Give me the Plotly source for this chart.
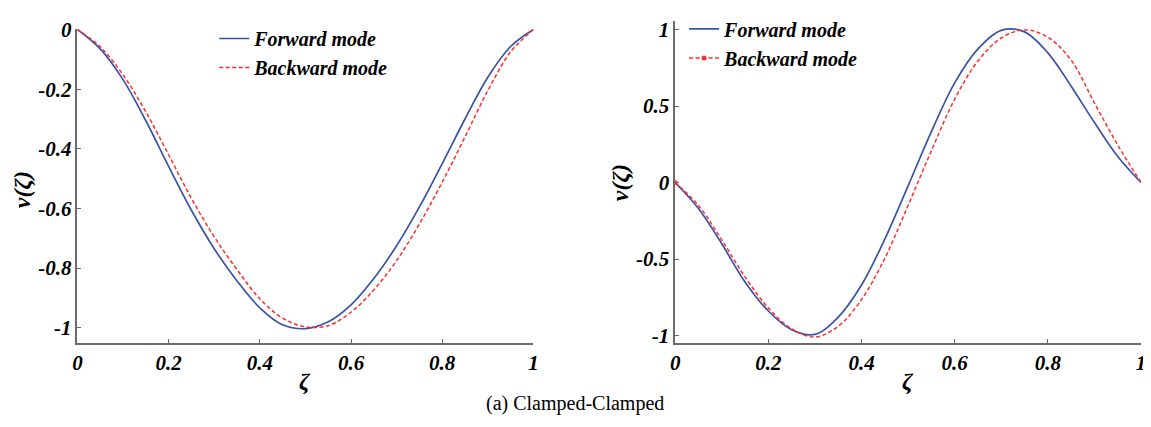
import plotly.graph_objects as go

# ---------------- data ----------------
zeta = [0.0, 0.05, 0.10, 0.15, 0.20, 0.25, 0.30, 0.35, 0.40, 0.45, 0.50,
        0.55, 0.60, 0.65, 0.70, 0.75, 0.80, 0.85, 0.90, 0.95, 1.0]

# Left panel (first mode)
left_forward = [0.0, -0.065, -0.168, -0.306, -0.459, -0.606, -0.735, -0.843, -0.933, -0.990, -1.003,
                -0.980, -0.923, -0.835, -0.725, -0.595, -0.450, -0.300, -0.160, -0.057, 0.0]
left_backward = [0.0, -0.058, -0.152, -0.276, -0.420, -0.566, -0.695, -0.805, -0.903, -0.968, -0.997,
                 -0.993, -0.948, -0.873, -0.775, -0.652, -0.512, -0.360, -0.205, -0.075, 0.0]

# Right panel (second mode)
right_forward = [0.0, -0.170, -0.400, -0.650, -0.840, -0.962, -0.993, -0.880, -0.670, -0.370, -0.022,
                 0.333, 0.652, 0.874, 0.995, 0.985, 0.848, 0.630, 0.392, 0.170, 0.0]
right_backward = [0.0, -0.150, -0.375, -0.617, -0.820, -0.957, -1.010, -0.940, -0.765, -0.495, -0.150,
                  0.208, 0.545, 0.795, 0.945, 0.998, 0.950, 0.800, 0.520, 0.245, 0.0]

x_tickvals = [0, 0.2, 0.4, 0.6, 0.8, 1]
x_ticktext = ["0", "0.2", "0.4", "0.6", "0.8", "1"]
yl_tickvals = [0, -0.2, -0.4, -0.6, -0.8, -1]
yl_ticktext = ["0", "-0.2", "-0.4", "-0.6", "-0.8", "-1"]
yr_tickvals = [1, 0.5, 0, -0.5, -1]
yr_ticktext = ["1", "0.5", "0", "-0.5", "-1"]

series_names = ["Forward mode", "Backward mode"]
caption = "(a) Clamped-Clamped"

# ---------------- styling ----------------
OFF = 8                      # page body margin of the html page
W, H = 1151 - OFF, 427 - OFF
BLUE = "#3b52a8"
RED = "#ff2b2b"
AXC = "#6a6a6a"
SERIF = "Liberation Serif, Times New Roman, serif"


def px(x):
    return (x - OFF) / W


def py(y):
    return 1 - (y - OFF) / H


fig = go.Figure()

fig.add_trace(go.Scatter(x=zeta, y=left_forward, name=series_names[0], mode="lines",
                         line=dict(color=BLUE, width=1.7, shape="spline"),
                         xaxis="x", yaxis="y", legend="legend"))
fig.add_trace(go.Scatter(x=zeta, y=left_backward, name=series_names[1], mode="lines",
                         line=dict(color=RED, width=1.5, dash="4px,2.5px", shape="spline"),
                         xaxis="x", yaxis="y", legend="legend"))

fig.add_trace(go.Scatter(x=zeta, y=right_forward, name=series_names[0], mode="lines",
                         line=dict(color=BLUE, width=1.7, shape="spline"),
                         xaxis="x2", yaxis="y2", legend="legend2"))
marker_colors = [RED] + ["rgba(0,0,0,0)"] * (len(zeta) - 1)
fig.add_trace(go.Scatter(x=zeta, y=right_backward, name=series_names[1], mode="lines+markers",
                         line=dict(color=RED, width=1.5, dash="4px,2.5px", shape="spline"),
                         marker=dict(color=marker_colors, size=5),
                         xaxis="x2", yaxis="y2", legend="legend2"))

tickfont = dict(family=SERIF, size=21, color="black", weight="bold", style="italic")


def xax(domain, anchor):
    return dict(domain=domain, anchor=anchor, range=[0, 1], tickmode="array",
                tickvals=x_tickvals, ticktext=x_ticktext, ticks="inside", ticklen=4,
                tickcolor=AXC, tickwidth=1, showline=True, linecolor=AXC, linewidth=1.5,
                showgrid=False, zeroline=False, tickfont=tickfont, mirror=False)


def yax(domain, anchor, rng, tv, tt):
    return dict(domain=domain, anchor=anchor, range=rng, tickmode="array",
                tickvals=tv, ticktext=tt, ticks="inside", ticklen=4,
                tickcolor=AXC, tickwidth=1, showline=True, linecolor=AXC, linewidth=1.5,
                showgrid=False, zeroline=False, tickfont=tickfont, mirror=False)


legfont = dict(family=SERIF, size=20, color="black", weight="bold", style="italic")

fig.update_layout(
    width=W, height=H,
    margin=dict(l=0, r=0, t=0, b=0),
    paper_bgcolor="white", plot_bgcolor="white",
    xaxis=xax([px(73), px(533)], "y"),
    yaxis=yax([py(345), py(18)], "x", [-1.0516, 0.003], yl_tickvals, yl_ticktext),
    xaxis2=xax([px(676), px(1146)], "y2"),
    yaxis2=yax([py(345), py(10)], "x2", [-1.050, 1.0566], yr_tickvals, yr_ticktext),
    legend=dict(x=px(211), y=py(8), xanchor="left", yanchor="top",
                bgcolor="rgba(0,0,0,0)", font=legfont, borderwidth=0),
    legend2=dict(x=px(685), y=py(-2), xanchor="left", yanchor="top",
                 bgcolor="rgba(0,0,0,0)", font=legfont, borderwidth=0),
    showlegend=True,
)

title_font = dict(family=SERIF, size=24, color="black", weight="bold", style="italic")
annos = [
    dict(text="v(ζ)", x=px(17), y=py(185), textangle=-90),
    dict(text="v(ζ)", x=px(621), y=py(178), textangle=-90),
    dict(text="ζ", x=px(303), y=py(385), textangle=0),
    dict(text="ζ", x=px(911), y=py(385), textangle=0),
]
for a in annos:
    fig.add_annotation(xref="paper", yref="paper", showarrow=False, font=title_font,
                       xanchor="center", yanchor="middle", **a)
fig.add_annotation(text=caption, xref="paper", yref="paper", x=px(575), y=py(408),
                   showarrow=False, xanchor="center", yanchor="middle",
                   font=dict(family=SERIF, size=20, color="black"))

fig.write_html("out.html")
